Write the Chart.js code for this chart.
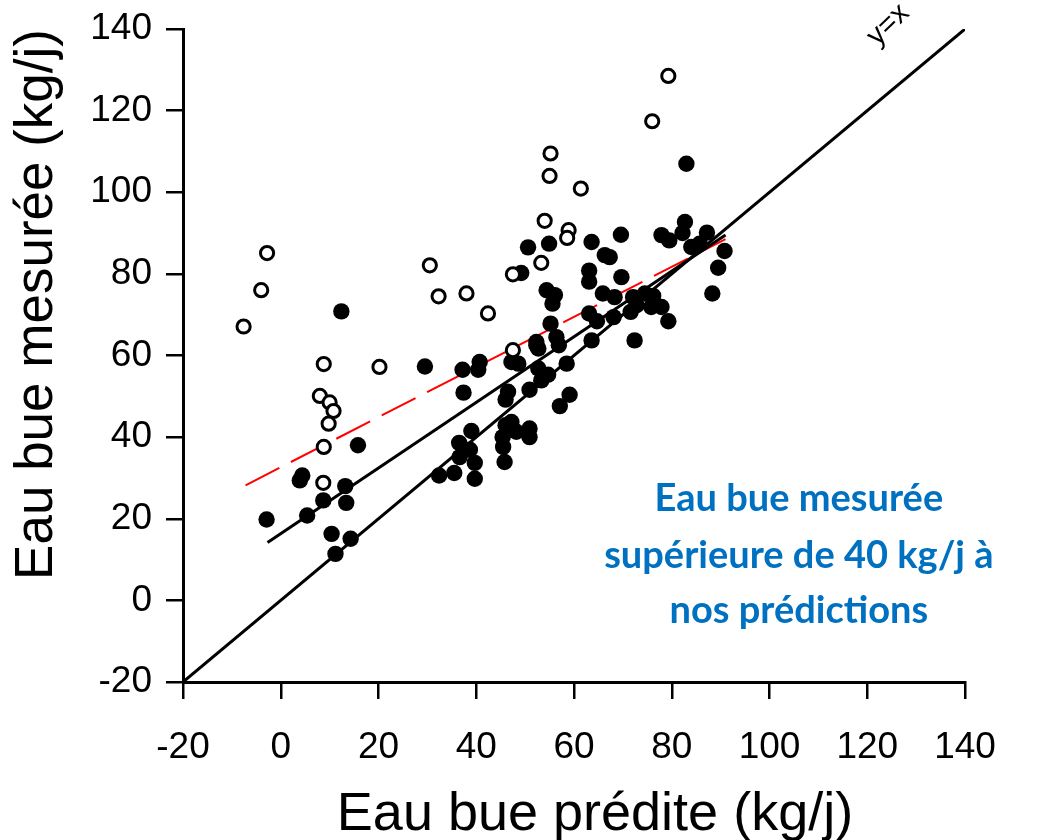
<!DOCTYPE html>
<html lang="fr">
<head>
<meta charset="utf-8">
<title>Eau bue mesurée / prédite</title>
<script src="https://cdn.jsdelivr.net/npm/chart.js@4.4.1/dist/chart.umd.min.js"></script>
<style>
  html, body { margin: 0; padding: 0; background: #fff; }
  #chart { display: block; }
</style>
</head>
<body>
<canvas id="chart" width="1039" height="840"></canvas>
<script>
// eau bue [prédite, mesurée] en kg/j
// cercles vides : mesurée > prédite + 40 kg/j
const openPoints = [
    [-7.6, 67.1], [-4.0, 76.0], [-2.8, 85.1], [8.8, 57.9], [20.2, 57.2], [8.0, 50.1],
    [10.0, 48.5], [10.8, 46.4], [9.8, 43.3], [8.8, 37.6], [8.7, 28.8], [30.5, 82.1],
    [32.3, 74.5], [38.0, 75.2], [42.4, 70.3], [47.5, 79.9], [47.5, 61.3], [53.3, 82.7],
    [54.0, 93.0], [55.0, 104.0], [55.2, 109.5], [61.4, 100.9], [58.9, 90.7], [58.6, 88.8],
    [76.0, 117.4], [79.3, 128.5]
]
const filledPoints = [
    [12.4, 70.8], [15.8, 38.0], [4.4, 30.6], [3.9, 29.4], [13.2, 28.0], [8.7, 24.5],
    [13.4, 23.9], [5.4, 20.8], [-2.9, 19.8], [10.4, 16.3], [14.3, 15.1], [11.2, 11.4],
    [29.5, 57.3], [37.2, 56.5], [40.7, 58.4], [40.4, 56.5], [37.4, 50.9], [39.0, 41.5],
    [36.5, 38.6], [38.7, 36.9], [36.6, 35.1], [39.7, 33.7], [32.4, 30.6], [35.5, 31.2],
    [39.7, 29.8], [45.8, 33.9], [45.4, 40.0], [45.5, 37.6], [46.0, 42.9], [47.2, 43.7],
    [48.2, 41.3], [50.9, 42.1], [50.9, 40.0], [46.5, 51.1], [46.0, 49.2], [50.9, 51.6],
    [47.2, 58.4], [48.6, 58.0], [52.3, 62.5], [52.3, 63.3], [52.7, 61.7], [52.7, 56.8],
    [54.7, 55.3], [53.3, 53.9], [58.5, 58.0], [59.1, 50.4], [57.1, 47.6], [55.2, 67.8],
    [56.4, 64.5], [56.9, 62.5], [49.2, 80.2], [50.6, 86.5], [54.9, 87.4], [54.4, 76.0],
    [56.1, 74.8], [55.6, 72.7], [63.6, 87.8], [63.1, 80.8], [63.1, 78.1], [69.6, 89.6],
    [77.9, 89.5], [79.5, 88.2], [82.7, 92.7], [82.2, 90.0], [87.2, 90.1], [84.0, 86.6],
    [85.7, 87.4], [90.8, 85.6], [89.5, 81.5], [88.3, 75.2], [83.0, 107.0], [66.3, 84.6],
    [67.3, 84.1], [69.7, 79.2], [65.9, 75.2], [68.3, 74.3], [72.1, 74.3], [74.5, 75.2],
    [76.2, 74.6], [72.8, 72.3], [71.6, 70.7], [75.8, 71.9], [77.9, 71.9], [79.3, 68.4],
    [72.4, 63.7], [63.1, 70.3], [64.7, 68.4], [68.1, 69.4], [63.6, 63.7]
]
// droites : y = x, régression (noire), régression (rouge, tirets)
const identityLine = [[-20, -20], [140, 140]]
const fitLine = [[-2.7, 14.2], [91, 89.5]]
const dashedFitLine = [[-7.2, 28.2], [91, 88.5]]

const tickValues = [-20, 0, 20, 40, 60, 80, 100, 120, 140]
const xTitle = 'Eau bue prédite (kg/j)'
const yTitle = 'Eau bue mesurée (kg/j)'
const noteLines = ['Eau bue mesurée', 'supérieure de 40 kg/j à', 'nos prédictions']

const toXY = arr => arr.map(p => ({x: p[0], y: p[1]}))

const arial = '"Liberation Sans", Arial, sans-serif'

const axisOptions = (labelPadding, afterFit) => ({
    type: 'linear',
    min: tickValues[0],
    max: tickValues[tickValues.length - 1],
    afterBuildTicks: scale => {
        scale.ticks = tickValues.map(v => ({value: v}))
    },
    afterFit: scale => {
        afterFit(scale)
        // pas de marge auto pour les étiquettes en bout d'axe
        scale.paddingTop = 0
        scale.paddingBottom = 0
        scale.paddingLeft = 0
        scale.paddingRight = 0
    },
    ticks: {
        color: '#000',
        font: {family: arial, size: 37},
        padding: labelPadding,
        maxRotation: 0,
        autoSkip: false
    },
    grid: {
        drawOnChartArea: false,
        drawTicks: true,
        tickLength: 17,
        color: '#000',
        lineWidth: 2.5
    },
    border: {display: true, color: '#000', width: 3}
})

// textes dessinés par-dessus : titre x, encadré bleu, étiquette y=x
const textsPlugin = {
    id: 'texts',
    afterDraw(chart) {
        const {ctx} = chart
        const {x, y} = chart.scales
        ctx.save()

        ctx.fillStyle = '#000'
        ctx.font = '54px ' + arial
        ctx.textAlign = 'center'
        ctx.textBaseline = 'alphabetic'
        ctx.fillText(xTitle, 595, 830)

        ctx.fillStyle = '#0070c0'
        ctx.font = 'bold 38px Lato, "Open Sans", sans-serif'
        const noteX = x.getPixelForValue(106)
        const noteY = [22.0, 8.0, -5.6]
        noteLines.forEach((line, i) => {
            ctx.fillText(line, noteX, y.getPixelForValue(noteY[i]))
        })

        ctx.fillStyle = '#000'
        ctx.font = '29px ' + arial
        ctx.translate(x.getPixelForValue(124.3), y.getPixelForValue(141))
        ctx.rotate(-44 * Math.PI / 180)
        ctx.textBaseline = 'middle'
        ctx.fillText('y=x', 0, 0)

        ctx.restore()
    }
}

new Chart(document.getElementById('chart'), {
    type: 'scatter',
    data: {
        datasets: [
            {
                label: 'mesurée > prédite + 40',
                data: toXY(openPoints),
                pointRadius: 6.6,
                pointBorderWidth: 3,
                borderColor: '#000',
                backgroundColor: '#fff',
                pointHoverRadius: 6.6
            },
            {
                label: 'autres',
                data: toXY(filledPoints),
                pointRadius: 8.2,
                pointBorderWidth: 0,
                borderColor: '#000',
                backgroundColor: '#000',
                pointHoverRadius: 8.2
            },
            {
                label: 'régression',
                data: toXY(fitLine),
                showLine: true,
                borderColor: '#000',
                borderWidth: 3,
                pointRadius: 0
            },
            {
                label: 'régression (tous)',
                data: toXY(dashedFitLine),
                showLine: true,
                borderColor: '#ff0000',
                borderWidth: 2,
                borderDash: [38, 13],
                pointRadius: 0
            },
            {
                label: 'y=x',
                data: toXY(identityLine),
                showLine: true,
                borderColor: '#000',
                borderWidth: 3,
                pointRadius: 0
            }
        ]
    },
    options: {
        responsive: false,
        animation: false,
        devicePixelRatio: 1,
        layout: {padding: {top: 29, right: 74, left: 0, bottom: 0}},
        scales: {
            x: axisOptions(27, scale => { scale.height = 158 }),
            y: Object.assign(axisOptions(14, scale => { scale.width = 183 }), {
                title: {
                    display: true,
                    text: yTitle,
                    align: 'end',
                    color: '#000',
                    font: {family: arial, size: 53, lineHeight: 1},
                    padding: {top: 11, bottom: 0}
                }
            })
        },
        plugins: {
            legend: {display: false},
            tooltip: {enabled: false}
        }
    },
    plugins: [textsPlugin]
})
</script>
</body>
</html>
